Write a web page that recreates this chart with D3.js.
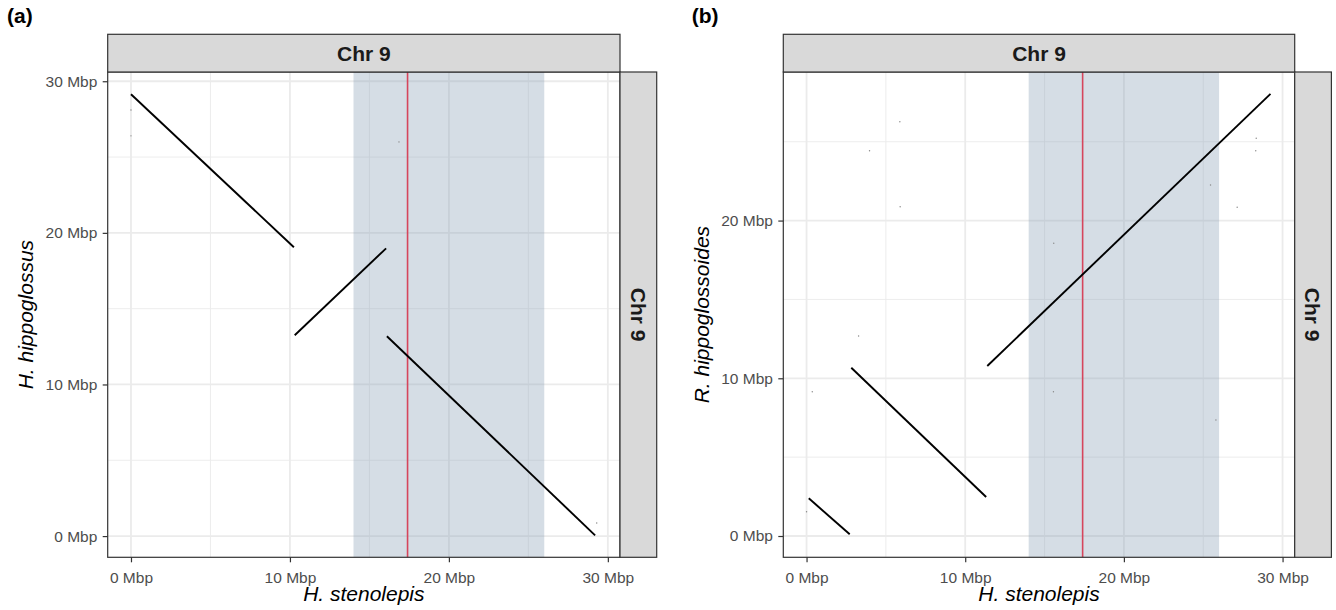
<!DOCTYPE html>
<meta charset="utf-8">
<script src="https://d3js.org/d3.v7.min.js"></script>
<style>
body { margin: 0; background: #fff; }
svg { font-family: "Liberation Sans", Arial, Helvetica, sans-serif; }
</style>
<body>
<div id="chart"></div>
<script>
// values (Mbp)
const panelTags = ["(a)", "(b)"];
const stripLabel = "Chr 9";
const xTitle = "H. stenolepis";
const yTitles = ["H. hippoglossus", "R. hippoglossoides"];
const xTicks = [0, 10, 20, 30];
const xMinor = [5, 15, 25];
const yTicksA = [0, 10, 20, 30];
const yTicksB = [0, 10, 20];
const yMinor = [5, 15, 25];
const highlight = [14, 26];
const markerPos = 17.4;

// alignment blocks: [x start, y start, x end, y end]
const blocksA = [
  [0.0, 29.14, 10.25, 19.05],
  [10.3, 13.25, 16.05, 18.98],
  [16.1, 13.18, 29.2, 0.05]
];
const blocksB = [
  [0.14, 2.39, 2.72, 0.11],
  [2.82, 10.67, 11.32, 2.47],
  [11.39, 10.78, 29.24, 28.03]
];
// stray hits
const dotsA = [[0.0, 26.4], [0.0, 28.1], [16.86, 26.0], [29.3, 0.86]];
const dotsB = [[5.88, 26.27], [3.97, 24.43], [5.9, 20.88], [28.34, 25.22], [28.31, 24.43],
  [27.14, 20.84], [15.58, 18.56], [25.46, 22.26], [0.36, 9.15], [15.56, 9.15],
  [0.0, 1.54], [3.28, 12.68], [25.8, 7.36]];

const W = 1336, H = 610;
const pTop = 72, pBottom = 557.3, stripH = 37.7, sideW = 36.7;

const svg = d3.select("#chart").append("svg")
  .attr("width", W).attr("height", H);

const panels = [
  {tag: panelTags[0], tagX: 7, x0: 107.7, x1: 620, yDom: [-1.40, 30.61], yTicks: yTicksA,
   yTitle: yTitles[0], blocks: blocksA, dots: dotsA},
  {tag: panelTags[1], tagX: 691.7, x0: 783.3, x1: 1294.7, yDom: [-1.35, 29.42], yTicks: yTicksB,
   yTitle: yTitles[1], blocks: blocksB, dots: dotsB}
];

panels.forEach(p => {
  const x = d3.scaleLinear().domain([-1.465, 30.765]).range([p.x0, p.x1]);
  const y = d3.scaleLinear().domain(p.yDom).range([pBottom, pTop]);
  const g = svg.append("g");

  // tag
  g.append("text").attr("x", p.tagX).attr("y", 22.5)
    .attr("font-weight", "bold").attr("font-size", 21).text(p.tag);

  // grid
  const yMin = yMinor.filter(v => v <= p.yDom[1]);
  g.selectAll(".gmx").data(xMinor).join("line")
    .attr("x1", d => x(d)).attr("x2", d => x(d)).attr("y1", pTop).attr("y2", pBottom)
    .attr("stroke", "#ebebeb").attr("stroke-width", 0.9);
  g.selectAll(".gmy").data(yMin).join("line")
    .attr("x1", p.x0).attr("x2", p.x1).attr("y1", d => y(d)).attr("y2", d => y(d))
    .attr("stroke", "#ebebeb").attr("stroke-width", 0.9);
  g.selectAll(".gx").data(xTicks).join("line")
    .attr("x1", d => x(d)).attr("x2", d => x(d)).attr("y1", pTop).attr("y2", pBottom)
    .attr("stroke", "#ebebeb").attr("stroke-width", 1.8);
  g.selectAll(".gy").data(p.yTicks).join("line")
    .attr("x1", p.x0).attr("x2", p.x1).attr("y1", d => y(d)).attr("y2", d => y(d))
    .attr("stroke", "#ebebeb").attr("stroke-width", 1.8);

  // highlighted region + marker
  g.append("rect")
    .attr("x", x(highlight[0])).attr("width", x(highlight[1]) - x(highlight[0]))
    .attr("y", pTop).attr("height", pBottom - pTop)
    .attr("fill", "#879eb5").attr("fill-opacity", 0.35);
  g.append("line")
    .attr("x1", x(markerPos)).attr("x2", x(markerPos)).attr("y1", pTop).attr("y2", pBottom)
    .attr("stroke", "#d6455c").attr("stroke-width", 1.6);

  // alignments
  g.selectAll(".blk").data(p.blocks).join("line")
    .attr("x1", d => x(d[0])).attr("y1", d => y(d[1]))
    .attr("x2", d => x(d[2])).attr("y2", d => y(d[3]))
    .attr("stroke", "#000").attr("stroke-width", 1.9);
  g.selectAll(".dot").data(p.dots).join("circle")
    .attr("cx", d => x(d[0])).attr("cy", d => y(d[1])).attr("r", 0.7)
    .attr("fill", "#888");

  // panel border
  g.append("rect").attr("x", p.x0).attr("y", pTop)
    .attr("width", p.x1 - p.x0).attr("height", pBottom - pTop)
    .attr("fill", "none").attr("stroke", "#333").attr("stroke-width", 1.2);

  // strips
  g.append("rect").attr("x", p.x0).attr("y", pTop - stripH)
    .attr("width", p.x1 - p.x0).attr("height", stripH)
    .attr("fill", "#d9d9d9").attr("stroke", "#333").attr("stroke-width", 1.2);
  g.append("text").attr("x", (p.x0 + p.x1) / 2).attr("y", pTop - stripH / 2)
    .attr("dy", "0.36em").attr("text-anchor", "middle")
    .attr("font-weight", "bold").attr("font-size", 21).attr("fill", "#1a1a1a")
    .text(stripLabel);
  g.append("rect").attr("x", p.x1).attr("y", pTop)
    .attr("width", sideW).attr("height", pBottom - pTop)
    .attr("fill", "#d9d9d9").attr("stroke", "#333").attr("stroke-width", 1.2);
  g.append("text")
    .attr("transform", `translate(${p.x1 + sideW / 2},${(pTop + pBottom) / 2}) rotate(90)`)
    .attr("dy", "0.36em").attr("text-anchor", "middle")
    .attr("font-weight", "bold").attr("font-size", 21).attr("fill", "#1a1a1a")
    .text(stripLabel);

  // axes
  const fmt = d => d + " Mbp";
  const xa = g.append("g").attr("transform", `translate(0,${pBottom})`)
    .call(d3.axisBottom(x).tickValues(xTicks).tickFormat(fmt).tickSize(5).tickPadding(9.5));
  const ya = g.append("g").attr("transform", `translate(${p.x0},0)`)
    .call(d3.axisLeft(y).tickValues(p.yTicks).tickFormat(fmt).tickSize(5).tickPadding(5.4));
  [xa, ya].forEach(a => {
    a.select(".domain").remove();
    a.selectAll("line").attr("stroke", "#333").attr("stroke-width", 1.2);
    a.selectAll("text").attr("fill", "#4d4d4d").attr("font-size", 15.5)
      .attr("font-family", "\"Liberation Sans\", Arial, sans-serif");
  });

  // titles
  g.append("text").attr("x", (p.x0 + p.x1) / 2).attr("y", 601)
    .attr("text-anchor", "middle").attr("font-style", "italic").attr("font-size", 21)
    .text(xTitle);
  g.append("text")
    .attr("transform", `translate(${p.x0 - 74.7},${(pTop + pBottom) / 2}) rotate(-90)`)
    .attr("text-anchor", "middle").attr("font-style", "italic").attr("font-size", 21)
    .text(p.yTitle);
});
</script>
</body>
